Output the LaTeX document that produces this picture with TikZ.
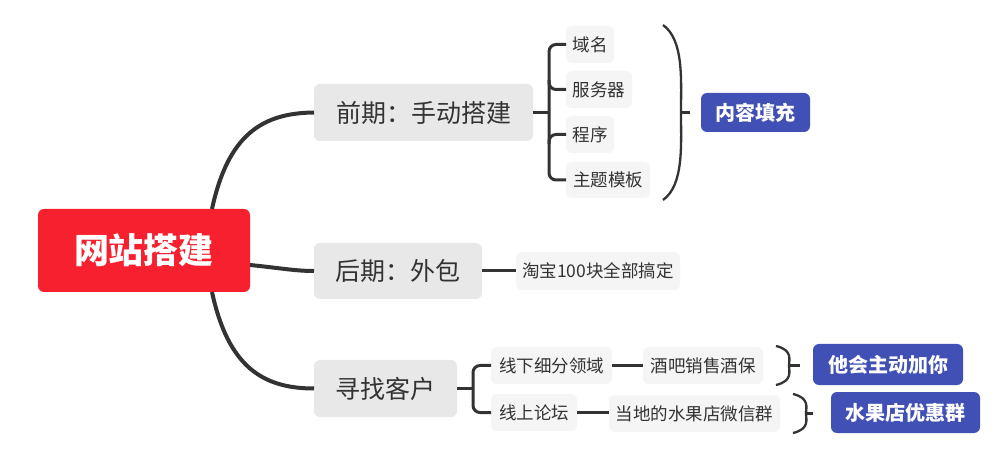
\documentclass[tikz,border=0pt]{standalone}
\usepackage{fontspec}
\setmainfont{Noto Sans CJK SC}
\begin{document}
\begin{tikzpicture}[x=1pt,y=-1pt,
  every node/.style={inner sep=0pt, outer sep=0pt},
  rootbox/.style={fill=rootred, rounded corners=6pt, text=white, font=\fontsize{35}{38}\selectfont\bfseries},
  mainbox/.style={fill=maingray, rounded corners=6pt, text=textgray, font=\fontsize{25}{28}\selectfont},
  subbox/.style={fill=subgray, rounded corners=6pt, text=textgray, font=\fontsize{17.5}{20}\selectfont},
  sumbox/.style={fill=sumblue, rounded corners=6pt, text=white, font=\fontsize{20}{24}\selectfont\bfseries},
  thickline/.style={draw=linegray, line width=4pt},
  midline/.style={draw=linegray, line width=3pt},
  thinline/.style={draw=linegray, line width=2.3pt}]
\definecolor{rootred}{HTML}{F7202F}
\definecolor{maingray}{HTML}{E8E8E8}
\definecolor{subgray}{HTML}{F5F5F5}
\definecolor{sumblue}{HTML}{4050B5}
\definecolor{textgray}{HTML}{333333}
\definecolor{linegray}{HTML}{333333}
\useasboundingbox[fill=white] (0,0) rectangle (997,449);

% root and main branches
\node[rootbox, minimum width=212pt, minimum height=83pt] (root) at (144,250.5) {网站搭建};
\node[mainbox, minimum width=219pt, minimum height=57pt] (b1) at (423.5,112.5) {前期：手动搭建};
\node[mainbox, minimum width=168pt, minimum height=56pt] (b2) at (398,271) {后期：外包};
\node[mainbox, minimum width=143pt, minimum height=57pt] (b3) at (385.5,388.5) {寻找客户};

% children of branch 1
\node[subbox, minimum width=48pt, minimum height=37pt] (c1) at (590,44.5) {域名};
\node[subbox, minimum width=66pt, minimum height=37pt] (c2) at (599,89.5) {服务器};
\node[subbox, minimum width=48pt, minimum height=37pt] (c3) at (590,134.5) {程序};
\node[subbox, minimum width=84pt, minimum height=36pt] (c4) at (608,180) {主题模板};
\node[sumbox, minimum width=109pt, minimum height=39pt] (s1) at (755.5,112.5) {内容填充};

% child of branch 2
\node[subbox, minimum width=164pt, minimum height=38pt] (d1) at (598,271) {淘宝100块全部搞定};

% children of branch 3
\node[subbox, minimum width=121pt, minimum height=37pt] (e1) at (551.5,365.5) {线下细分领域};
\node[subbox, minimum width=86pt, minimum height=37pt] (e2) at (534,412.5) {线上论坛};
\node[subbox, minimum width=120pt, minimum height=37pt] (f1) at (703,365.5) {酒吧销售酒保};
\node[subbox, minimum width=171pt, minimum height=37pt] (f2) at (694.5,413.5) {当地的水果店微信群};
\node[sumbox, minimum width=150pt, minimum height=41pt] (s2) at (888,364.5) {他会主动加你};
\node[sumbox, minimum width=149pt, minimum height=41pt] (s3) at (905.5,412.5) {水果店优惠群};

% root connectors
\draw[thickline] (212,209) .. controls (228,135) and (262,113) .. (b1.west);
\draw[thickline] (root.east |- 0,265) .. controls (280,268) and (295,271) .. (b2.west);
\draw[thickline] (212,292) .. controls (228,366) and (262,388.5) .. (b3.west);

% branch 1 bracket
\coordinate (k1) at (549,112.5);
\draw[midline] (b1.east) -- (k1);
\draw[midline, rounded corners=7pt] (c1.west) -- (k1 |- c1.west) -- (k1 |- c4.west) -- (c4.west);
\draw[midline, rounded corners=7pt] (k1 |- 0,80) -- (k1 |- c2.west) -- (c2.west);
\draw[midline, rounded corners=7pt] (k1 |- 0,144) -- (k1 |- c3.west) -- (c3.west);

% big summary bracket
\coordinate (p1) at (681,112.5);
\draw[thinline] (663,25) .. controls (684,40) and (681,80) .. (p1) .. controls (681,145) and (684,185) .. (663,200);
\draw[thinline] (p1) -- (690,112.5);

% branch 2 line
\draw[midline] (b2.east) -- (d1.west);

% branch 3 bracket
\coordinate (k3) at (473,388.5);
\draw[midline] (b3.east) -- (k3);
\draw[midline, rounded corners=7pt] (e1.west) -- (k3 |- e1.west) -- (k3 |- e2.west) -- (e2.west);
\draw[midline] (e1.east) -- (f1.west);
\draw[midline] (e2.east) -- (f2.west |- e2.east);

% small summary brackets
\coordinate (p2) at (789,365.5);
\draw[thinline] (776,346) .. controls (793,350) and (789,360) .. (p2) .. controls (789,371) and (793,381) .. (776,385);
\draw[thinline] (p2) -- (800,365.5);
\coordinate (p3) at (806,413.5);
\draw[thinline] (793,394) .. controls (810,398) and (806,408) .. (p3) .. controls (806,419) and (810,429) .. (793,433);
\draw[thinline] (p3) -- (813,413.5);
\end{tikzpicture}
\end{document}
